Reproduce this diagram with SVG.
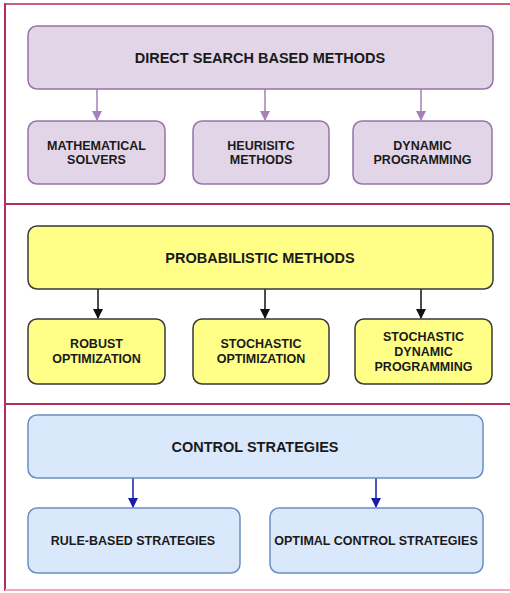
<svg xmlns="http://www.w3.org/2000/svg" width="510" height="593" viewBox="0 0 510 593">
<style>
text{font-family:"Liberation Sans",Arial,sans-serif;font-weight:bold;fill:#1a1a1a;text-anchor:middle}
.m{font-size:14.5px}
.c{font-size:12.5px}
.p{fill:#e1d5e7;stroke:#9673a6;stroke-width:1.5}
.y{fill:#ffff88;stroke:#36393d;stroke-width:1.5}
.b{fill:#dae8fc;stroke:#6c8ebf;stroke-width:1.5}
.fr{stroke:#b03060;stroke-width:2;fill:none}
</style>
<defs>
<marker id="ap" markerWidth="10" markerHeight="10" refX="9" refY="5" orient="auto" markerUnits="userSpaceOnUse"><path d="M0,0 L10,5 L0,10 Z" fill="#a680b8"/></marker>
<marker id="ak" markerWidth="10" markerHeight="10" refX="9" refY="5" orient="auto" markerUnits="userSpaceOnUse"><path d="M0,0 L10,5 L0,10 Z" fill="#111"/></marker>
<marker id="ab" markerWidth="10" markerHeight="10" refX="9" refY="5" orient="auto" markerUnits="userSpaceOnUse"><path d="M0,0 L10,5 L0,10 Z" fill="#1a1aa8"/></marker>
</defs>
<rect width="510" height="593" fill="#fff"/>
<g id="frame">
<line x1="5" y1="4" x2="510" y2="4" stroke="#c86080" stroke-width="2"/>
<line x1="5" y1="3" x2="5" y2="591" class="fr"/>
<line x1="5" y1="204" x2="510" y2="204" class="fr"/>
<line x1="5" y1="404" x2="510" y2="404" class="fr" stroke="#c05070"/>
<line x1="5" y1="590" x2="510" y2="590" stroke="#f2a6c6" stroke-width="2"/>
</g>
<g id="connectors" fill="none" stroke-width="1.5">
<line x1="97" y1="89" x2="97" y2="120" stroke="#a680b8" marker-end="url(#ap)"/>
<line x1="265" y1="89" x2="265" y2="120" stroke="#a680b8" marker-end="url(#ap)"/>
<line x1="421" y1="89" x2="421" y2="120" stroke="#a680b8" marker-end="url(#ap)"/>
<line x1="98" y1="289" x2="98" y2="318" stroke="#111" marker-end="url(#ak)"/>
<line x1="265" y1="289" x2="265" y2="318" stroke="#111" marker-end="url(#ak)"/>
<line x1="421" y1="289" x2="421" y2="318" stroke="#111" marker-end="url(#ak)"/>
<line x1="133" y1="478" x2="133" y2="507" stroke="#1a1aa8" marker-end="url(#ab)"/>
<line x1="376" y1="478" x2="376" y2="507" stroke="#1a1aa8" marker-end="url(#ab)"/>
</g>
<g id="direct-search"><rect class="p" x="28" y="26" width="465" height="63" rx="9"/><text class="m" x="260" y="62.5">DIRECT SEARCH BASED METHODS</text></g>
<g id="math-solvers"><rect class="p" x="28" y="121" width="137" height="63" rx="9"/><text class="c" x="96.5" y="150">MATHEMATICAL</text><text class="c" x="96.5" y="164">SOLVERS</text></g>
<g id="heuristic"><rect class="p" x="193" y="121" width="136" height="63" rx="9"/><text class="c" x="261" y="150">HEURISITC</text><text class="c" x="261" y="164">METHODS</text></g>
<g id="dynamic-prog"><rect class="p" x="353" y="121" width="139" height="63" rx="9"/><text class="c" x="422.5" y="150">DYNAMIC</text><text class="c" x="422.5" y="164">PROGRAMMING</text></g>
<g id="probabilistic"><rect class="y" x="28" y="226" width="465" height="63" rx="9"/><text class="m" x="260" y="262.5">PROBABILISTIC METHODS</text></g>
<g id="robust"><rect class="y" x="28" y="319" width="137" height="65" rx="9"/><text class="c" x="96.5" y="348">ROBUST</text><text class="c" x="96.5" y="363">OPTIMIZATION</text></g>
<g id="stochastic-opt"><rect class="y" x="193" y="319" width="136" height="65" rx="9"/><text class="c" x="261" y="348">STOCHASTIC</text><text class="c" x="261" y="363">OPTIMIZATION</text></g>
<g id="stochastic-dp"><rect class="y" x="355" y="319" width="137" height="65" rx="9"/><text class="c" x="423.5" y="340.5">STOCHASTIC</text><text class="c" x="423.5" y="355.5">DYNAMIC</text><text class="c" x="423.5" y="370.5">PROGRAMMING</text></g>
<g id="control"><rect class="b" x="28" y="415" width="455" height="63" rx="9"/><text class="m" x="255" y="451.5">CONTROL STRATEGIES</text></g>
<g id="rule-based"><rect class="b" x="28" y="508" width="212" height="65" rx="9"/><text class="c" x="133" y="545">RULE-BASED STRATEGIES</text></g>
<g id="optimal-control"><rect class="b" x="270" y="508" width="213" height="65" rx="9"/><text class="c" x="376" y="545">OPTIMAL CONTROL STRATEGIES</text></g>
</svg>
